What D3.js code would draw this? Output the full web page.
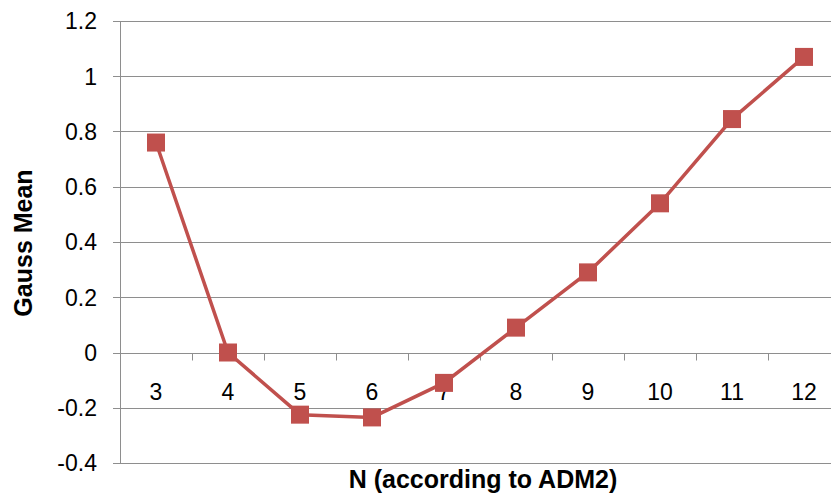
<!DOCTYPE html>
<html>
<head>
<meta charset="utf-8">
<script src="https://cdn.jsdelivr.net/npm/d3@7"></script>
<style>
  body { margin: 0; background: #fff; }
  text { font-family: "Liberation Sans", Arial, sans-serif; }
</style>
</head>
<body>
<div id="chart"></div>
<script>
// values
const categories = ["3", "4", "5", "6", "7", "8", "9", "10", "11", "12"];
const gaussMean = [0.76, 0.0, -0.225, -0.235, -0.11, 0.09, 0.29, 0.54, 0.845, 1.07];
const yTicks = [-0.4, -0.2, 0, 0.2, 0.4, 0.6, 0.8, 1, 1.2];

const svg = d3.select("#chart").append("svg")
  .attr("width", 831).attr("height", 500);

const margin = { top: 21, left: 120, bottom: 463, right: 840 };

const x = d3.scaleBand()
  .domain(categories)
  .range([margin.left, margin.right]);

const y = d3.scaleLinear()
  .domain([-0.4, 1.2])
  .range([margin.bottom, margin.top]);

const gridColor = "#8e8e8e";

// horizontal gridlines
svg.append("g")
  .selectAll("line")
  .data(yTicks)
  .enter()
  .append("line")
    .attr("x1", margin.left - 7)
    .attr("x2", margin.right)
    .attr("y1", d => Math.round(y(d)) + 0.5)
    .attr("y2", d => Math.round(y(d)) + 0.5)
    .attr("stroke", gridColor)
    .attr("stroke-width", 1);

// y axis line
svg.append("line")
  .attr("x1", margin.left + 0.5).attr("x2", margin.left + 0.5)
  .attr("y1", margin.top).attr("y2", margin.bottom)
  .attr("stroke", gridColor);

// y tick labels (plain hyphen for negatives)
svg.append("g")
  .selectAll("text")
  .data(yTicks)
  .enter()
  .append("text")
    .attr("x", 97)
    .attr("y", d => y(d))
    .attr("dy", "0.36em")
    .attr("text-anchor", "end")
    .style("font-size", "23px")
    .attr("fill", "#000")
    .text(d => String(+d.toFixed(1)));

// x category ticks on the zero line
const y0 = Math.round(y(0)) + 0.5;
svg.append("g")
  .selectAll("line")
  .data(categories.slice(1))
  .enter()
  .append("line")
    .attr("x1", d => Math.round(x(d)) + 0.5)
    .attr("x2", d => Math.round(x(d)) + 0.5)
    .attr("y1", y0)
    .attr("y2", y0 + 7)
    .attr("stroke", gridColor);

// x labels
svg.append("g")
  .selectAll("text")
  .data(categories)
  .enter()
  .append("text")
    .attr("x", d => x(d) + x.bandwidth() / 2)
    .attr("y", 400)
    .attr("text-anchor", "middle")
    .style("font-size", "23px")
    .attr("fill", "#000")
    .text(d => d);

// series line
const line = d3.line()
  .x((d, i) => x(categories[i]) + x.bandwidth() / 2)
  .y(d => y(d));

svg.append("path")
  .datum(gaussMean)
  .attr("d", line)
  .attr("fill", "none")
  .attr("stroke", "#C0504D")
  .attr("stroke-width", 3.5);

// square markers
const ms = 18;
svg.append("g")
  .selectAll("rect")
  .data(gaussMean)
  .enter()
  .append("rect")
    .attr("x", (d, i) => x(categories[i]) + x.bandwidth() / 2 - ms / 2)
    .attr("y", d => y(d) - ms / 2)
    .attr("width", ms)
    .attr("height", ms)
    .attr("fill", "#C0504D");

// axis titles
svg.append("text")
  .attr("x", 483)
  .attr("y", 488)
  .attr("text-anchor", "middle")
  .style("font-size", "25px")
  .style("font-weight", "bold")
  .text("N (according to ADM2)");

svg.append("text")
  .attr("transform", "translate(32,243) rotate(-90)")
  .attr("text-anchor", "middle")
  .style("font-size", "25px")
  .style("font-weight", "bold")
  .text("Gauss Mean");
</script>
</body>
</html>
